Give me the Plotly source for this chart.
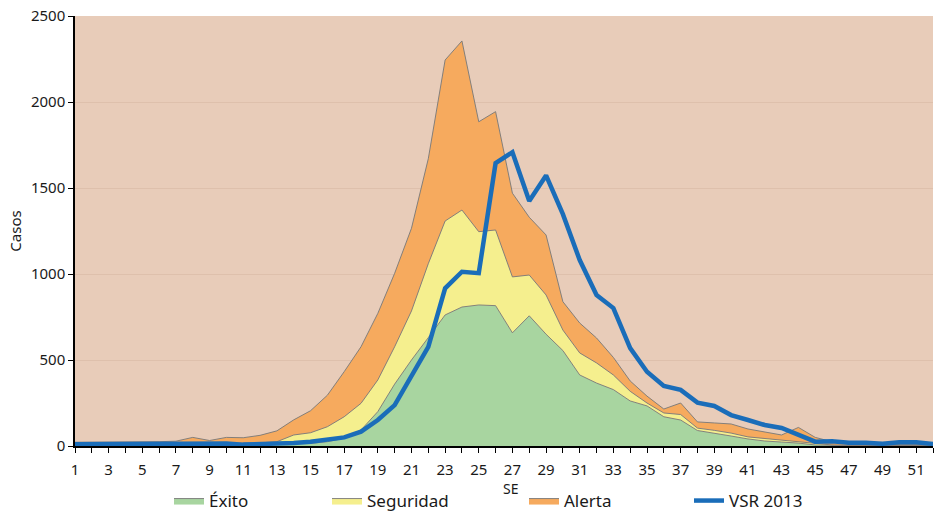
import plotly.graph_objects as go

weeks = list(range(1, 53))

exito = [5, 5, 5, 5, 5, 5, 5, 8, 5, 8, 8, 8, 10, 12, 15, 25, 45, 93, 200, 360,
         500, 630, 762, 808, 820, 816, 658, 757, 650, 555, 413, 366, 328, 262, 233, 170,
         151, 90, 76, 58, 41, 29, 23, 17, 6, 3, 3, 3, 3, 3, 3, 3]

seguridad = [10, 10, 10, 10, 10, 10, 12, 15, 12, 15, 15, 18, 25, 64, 77, 112, 170, 248, 384, 577,
             785, 1060, 1308, 1372, 1246, 1256, 983, 994, 878, 674, 541, 483, 413, 318, 250, 192,
             183, 104, 91, 75, 53, 43, 35, 24, 12, 6, 4, 4, 4, 4, 4, 4]

alerta = [22, 22, 22, 22, 25, 25, 28, 50, 32, 50, 48, 62, 88, 152, 205, 295, 432, 577, 771, 1004,
          1266, 1670, 2244, 2355, 1885, 1944, 1470, 1330, 1227, 839, 715, 628, 515, 378, 290, 215,
          250, 140, 134, 128, 99, 81, 64, 108, 50, 25, 12, 8, 8, 8, 8, 8]

vsr2013 = [10, 10, 10, 10, 10, 12, 12, 12, 10, 15, 8, 10, 15, 18, 25, 35, 50, 83, 151, 238,
           403, 577, 917, 1013, 1005, 1645, 1708, 1425, 1573, 1348, 1081, 878, 802, 569, 432, 349,
           326, 252, 233, 180, 151, 122, 105, 64, 25, 28, 19, 19, 13, 22, 22, 12]

tick_vals = list(range(1, 53, 2))
y_ticks = [0, 500, 1000, 1500, 2000, 2500]

FONT = "Noto Sans"
edge = "rgba(120,120,120,0.9)"
W, H = 938, 512

fig = go.Figure()
fig.add_trace(go.Scatter(x=weeks, y=exito, name="Éxito", mode="lines", fill="tozeroy",
                         fillcolor="#A8D5A0", line=dict(color=edge, width=1), legend="legend"))
fig.add_trace(go.Scatter(x=weeks, y=seguridad, name="Seguridad", mode="lines", fill="tonexty",
                         fillcolor="#F5EF8E", line=dict(color=edge, width=1), legend="legend2"))
fig.add_trace(go.Scatter(x=weeks, y=alerta, name="Alerta", mode="lines", fill="tonexty",
                         fillcolor="#F6AA5E", line=dict(color=edge, width=1), legend="legend3"))
fig.add_trace(go.Scatter(x=weeks, y=vsr2013, name="VSR 2013", mode="lines",
                         line=dict(color="#1A6DB9", width=4.5), legend="legend4"))

leg_common = dict(orientation="h", yref="container", xref="container",
                  yanchor="middle", y=1 - 501 / H, xanchor="left",
                  bgcolor="rgba(0,0,0,0)", font=dict(family=FONT, size=17, color="#1a1a1a"),
                  itemwidth=30)

fig.update_layout(
    width=W, height=H,
    margin=dict(l=75, r=5, t=16, b=66),
    paper_bgcolor="white",
    plot_bgcolor="#E8CCB9",
    font=dict(family=FONT, size=15, color="#1a1a1a"),
    showlegend=True,
    legend=dict(x=169 / W, **leg_common),
    legend2=dict(x=327 / W, **leg_common),
    legend3=dict(x=524 / W, **leg_common),
    legend4=dict(x=689 / W, **leg_common),
    xaxis=dict(range=[1, 52], tickvals=tick_vals, ticks="outside", ticklen=5, tickcolor="black",
               minor=dict(dtick=1, tick0=1, ticks="outside", ticklen=5, tickcolor="black"),
               showline=True, linecolor="black", linewidth=1.5, showgrid=False, zeroline=False,
               automargin=False, ticklabelstandoff=4,
               tickfont=dict(size=15)),
    yaxis=dict(range=[0, 2500], tickvals=y_ticks, ticks="outside", ticklen=5, tickcolor="black",
               showline=True, linecolor="black", linewidth=1.5, gridcolor="#DEC0AC", gridwidth=1,
               zeroline=False, automargin=False,
               title=dict(text="Casos", standoff=6, font=dict(size=15)),
               tickfont=dict(size=15)),
    annotations=[dict(text="SE", xref="paper", yref="paper", x=(510 - 75) / 858,
                      y=(446 - 488) / 430, xanchor="center", yanchor="middle",
                      showarrow=False, font=dict(family=FONT, size=14, color="#1a1a1a"))],
)

fig.write_html("out.html", config={"displayModeBar": False},
               post_script="document.body.style.margin='0px';")
